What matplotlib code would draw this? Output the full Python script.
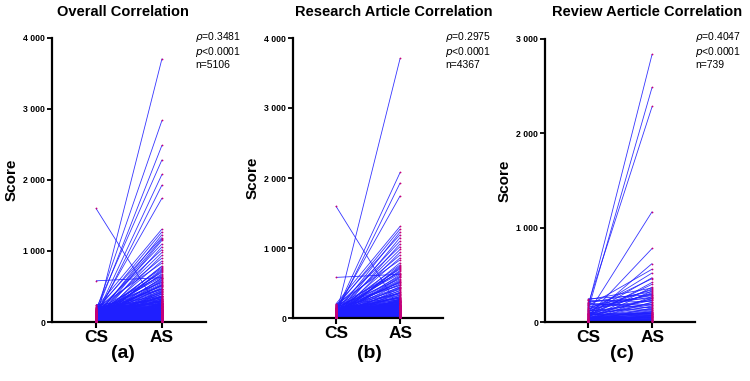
import matplotlib
matplotlib.use("Agg")
import matplotlib.pyplot as plt
from matplotlib.ticker import FuncFormatter

plt.rcParams['font.family'] = ['Liberation Sans', 'DejaVu Sans']

categories = ["CS", "AS"]
panel_titles = ["Overall Correlation", "Research Article Correlation", "Review Aerticle Correlation"]
panel_tags = ["(a)", "(b)", "(c)"]
rho_vals = ["0.3481", "0.2975", "0.4047"]
n_vals = ["5106", "4367", "739"]
ymax_vals = [4000, 4000, 3000]

# ---- Research articles: (CS, AS) pairs
research_cs_high = [30, 90, 60, 110, 1600, 580, 200, 150, 70, 180]
research_as_high = [3710, 2080, 1930, 1745, 120, 625, 1310, 1270, 1230, 1190]

research_cs_mid = [40, 120, 20, 160, 80, 10, 140, 60, 190, 35,
                   100, 15, 130, 50, 175, 25, 90, 5, 150, 65,
                   110, 45, 185, 30, 75, 135, 55, 12, 165, 95,
                   22, 125, 70, 8, 145, 38, 105, 18, 170, 58,
                   85, 28, 155, 48, 115, 3, 195, 68, 42, 98]
research_as_mid = [1150, 1100, 1060, 1020, 980, 940, 900, 860, 830, 790,
                   760, 730, 700, 680, 650, 620, 600, 580, 560, 530,
                   510, 490, 470, 450, 430, 410, 390, 370, 350, 330,
                   310, 290, 270, 250, 230, 210, 190, 170, 150, 130,
                   110, 90, 70, 50, 440, 360, 280, 520, 240, 300]

research_cs_mid2 = [15, 55, 95, 135, 25, 75, 115, 160, 5, 45,
                    85, 125, 35, 65, 105, 145, 20, 60, 100, 140,
                    10, 50, 90, 130, 30, 70, 110, 150, 40, 80]
research_as_mid2 = [745, 715, 665, 635, 590, 545, 505, 465, 425, 395,
                    365, 345, 325, 305, 285, 265, 255, 245, 235, 225,
                    215, 205, 195, 185, 178, 172, 166, 158, 152, 146]

research_cs_low = [0, 5, 12, 3, 20, 8, 15, 30, 2, 45,
                   10, 25, 6, 18, 35, 50, 4, 22, 14, 9,
                   60, 28, 1, 40, 16, 7, 33, 11, 55, 19,
                   3, 26, 70, 13, 38, 5, 21, 48, 9, 17,
                   65, 2, 31, 12, 43, 24, 6, 80, 15, 36,
                   8, 27, 52, 4, 19, 11, 75, 29, 3, 41,
                   14, 23, 7, 58, 32, 10, 46, 20, 1, 37,
                   85, 16, 25, 6, 53, 13, 30, 9, 44, 18]
research_as_low = [15, 40, 8, 70, 25, 55, 110, 35, 90, 12,
                   140, 60, 20, 95, 45, 75, 130, 30, 160, 50,
                   85, 10, 120, 65, 180, 28, 100, 48, 150, 5,
                   80, 38, 115, 58, 200, 22, 135, 68, 42, 170,
                   18, 105, 88, 32, 125, 62, 190, 14, 98, 52,
                   145, 26, 78, 112, 36, 165, 6, 92, 56, 128,
                   44, 175, 72, 24, 138, 84, 16, 155, 64, 102,
                   34, 118, 50, 185, 76, 30, 148, 96, 40, 160]

research_cs_low2 = [92, 104, 118, 126, 97, 112, 88, 121, 108, 99,
                    115, 94, 128, 102, 86, 119, 106, 91, 124, 110,
                    62, 74, 48, 57, 66, 79, 43, 71, 53, 68,
                    4, 11, 2, 17, 7, 23, 9, 14, 1, 27,
                    6, 19, 3, 12, 31, 8, 21, 5, 16, 10]
research_as_low2 = [62, 118, 34, 176, 88, 142, 22, 198, 106, 54,
                    224, 74, 12, 162, 96, 258, 40, 132, 84, 212,
                    240, 18, 156, 102, 66, 192, 128, 46, 230, 80,
                    262, 214, 248, 186, 270, 168, 232, 196, 254, 222,
                    122, 58, 144, 26, 94, 172, 36, 116, 82, 152]

# ---- Review articles: (CS, AS) pairs
review_cs_high = [150, 120, 180, 90, 60, 40, 170, 100, 245, 215]
review_as_high = [2840, 2490, 2285, 1170, 780, 620, 560, 520, 290, 250]

review_cs_mid = [80, 130, 50, 70, 30, 110, 20, 95, 140, 10,
                 60, 85, 25, 115, 45, 5, 125, 35, 75, 15]
review_as_mid = [470, 460, 420, 400, 370, 350, 330, 310, 290, 270,
                 250, 230, 210, 190, 170, 150, 130, 110, 90, 70]

review_cs_low = [0, 8, 15, 4, 22, 10, 30, 2, 18, 40,
                 6, 12, 26, 3, 35, 9, 20, 1, 14, 48,
                 7, 24, 11, 5, 32, 16, 2, 45, 13, 28,
                 55, 66, 72, 58, 84, 92, 63, 78, 101, 88,
                 230, 205, 190, 160, 140, 120, 236, 198, 175, 150]
review_as_low = [10, 35, 60, 20, 85, 45, 100, 5, 70, 120,
                 30, 55, 90, 15, 110, 40, 75, 25, 65, 130,
                 50, 95, 8, 38, 80, 62, 18, 105, 28, 48,
                 140, 22, 185, 58, 160, 12, 205, 92, 68, 245,
                 215, 320, 180, 265, 230, 300, 360, 150, 280, 340]

research_cs = research_cs_high + research_cs_mid + research_cs_mid2 + research_cs_low + research_cs_low2
research_as = research_as_high + research_as_mid + research_as_mid2 + research_as_low + research_as_low2
review_cs = review_cs_high + review_cs_mid + review_cs_low
review_as = review_as_high + review_as_mid + review_as_low
overall_cs = research_cs + review_cs
overall_as = research_as + review_as

panels = [(overall_cs, overall_as), (research_cs, research_as), (review_cs, review_as)]

W, H = 750, 381
fig = plt.figure(figsize=(W / 100, H / 100), dpi=100)

# pixel boxes: left, right, bottom, top
boxes = [(52, 206, 322, 38), (293, 443, 318, 38), (545, 695, 322, 39)]
title_x = [123, 394, 647]
tag_x = [123, 369, 622]
annot_x = [195, 445, 695]

fmt = FuncFormatter(lambda v, p: f"{int(v):,}".replace(",", " "))

for i, ((cs, as_), (l, r, b, t)) in enumerate(zip(panels, boxes)):
    ax = fig.add_axes([l / W, (H - b) / H, (r - l) / W, (b - t) / H])
    for c, a in zip(cs, as_, strict=True):
        ax.plot([0, 1], [c, a], color="#1f1fff", lw=0.6, alpha=0.9,
                solid_capstyle="butt", zorder=2)
        ax.plot([0, 1], [c, a], ls="none", marker="o", ms=1.3,
                mfc="#c4007a", mec="none", zorder=3)
    ax.set_xlim(-0.667, 1.667)
    ax.set_ylim(0, ymax_vals[i])
    ax.set_yticks(range(0, ymax_vals[i] + 1, 1000))
    ax.yaxis.set_major_formatter(fmt)
    ax.set_xticks([0, 1])
    ax.set_xticklabels(categories, fontsize=12.5, fontweight="bold")
    for s in ["top", "right"]:
        ax.spines[s].set_visible(False)
    for s in ["left", "bottom"]:
        ax.spines[s].set_linewidth(1.6)
    ax.tick_params(axis="y", length=3.5, width=1.3, labelsize=6.3, pad=1.5)
    ax.tick_params(axis="x", length=4, width=1.5, pad=1.5)
    for lab in ax.get_yticklabels():
        lab.set_fontweight("bold")
    ax.set_ylabel("Score", fontsize=11, fontweight="bold")
    ax.yaxis.set_label_coords(-33 / (r - l), 0.5)

    fig.text(title_x[i] / W, 1 - 12 / H, panel_titles[i], ha="center", va="center",
             fontsize=10.5, fontweight="bold")
    fig.text(tag_x[i] / W, 1 - 353 / H, panel_tags[i], ha="center", va="center",
             fontsize=14, fontweight="bold")
    fig.text(annot_x[i] / W, 1 - 30 / H,
             f"$\\it{{\\rho}}$=" + rho_vals[i] + "\n" + "$\\it{p}$<0.0001\nn=" + n_vals[i],
             ha="left", va="top", fontsize=7.5, linespacing=1.1)

fig.savefig("out.png", dpi=100)
